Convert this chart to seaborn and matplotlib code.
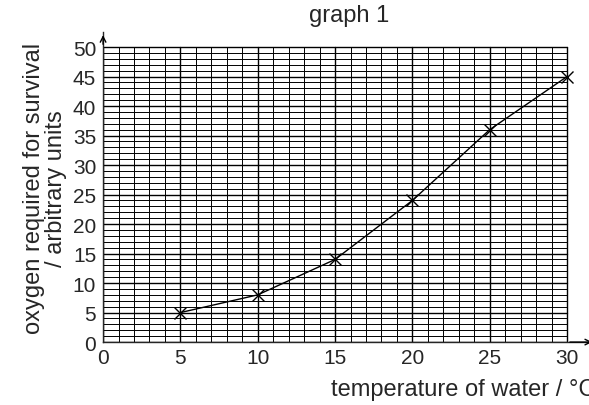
import matplotlib
matplotlib.use("Agg")
import matplotlib.pyplot as plt
import seaborn as sns
import pandas as pd

temperature = [5, 10, 15, 20, 25, 30]
oxygen = [5, 8, 14, 24, 36, 45]

sns.set_style("white")
plt.rcParams['font.family'] = ['Liberation Sans', 'DejaVu Sans']

fig = plt.figure(figsize=(5.89, 4.06), dpi=100)
ax = fig.add_axes([0.175, 0.155, 0.835, 0.763])

# graph paper grid
for x in range(0, 31):
    ax.plot([x, x], [0, 50], color='black', lw=1.0 if x % 5 == 0 else 0.7, zorder=1)
for y in range(0, 51):
    ax.plot([0, 30], [y, y], color='black', lw=1.0 if y % 5 == 0 else 0.7, zorder=1)

df = pd.DataFrame({"t": temperature, "o": oxygen})
sns.lineplot(data=df, x="t", y="o", color='black', lw=1.0, marker='x',
             markersize=8, markeredgewidth=1.0, markeredgecolor='black', ax=ax, zorder=3)

ax.set_xlim(0, 31.8)
ax.set_ylim(0, 52.5)
for s in ['top', 'right']:
    ax.spines[s].set_visible(False)
for s in ['left', 'bottom']:
    ax.spines[s].set_linewidth(1.0)
ax.annotate('', xy=(31.8, 0), xytext=(30, 0),
            arrowprops=dict(arrowstyle='->', lw=1.0, color='black'))
ax.annotate('', xy=(0, 52.5), xytext=(0, 50),
            arrowprops=dict(arrowstyle='->', lw=1.0, color='black'))

ax.set_xticks(range(0, 31, 5))
ax.set_yticks(range(0, 51, 5))
ax.tick_params(axis='x', labelsize=15, length=0, pad=4)
ax.tick_params(axis='y', labelsize=15, length=0, pad=5)
ax.set_xlabel('temperature of water / °C', fontsize=17, loc='right', labelpad=8)
ax.set_ylabel('oxygen required for survival\n/ arbitrary units', fontsize=17, linespacing=1.0)
ax.set_title('graph 1', fontsize=17, pad=8)

fig.savefig('out.png', dpi=100)
